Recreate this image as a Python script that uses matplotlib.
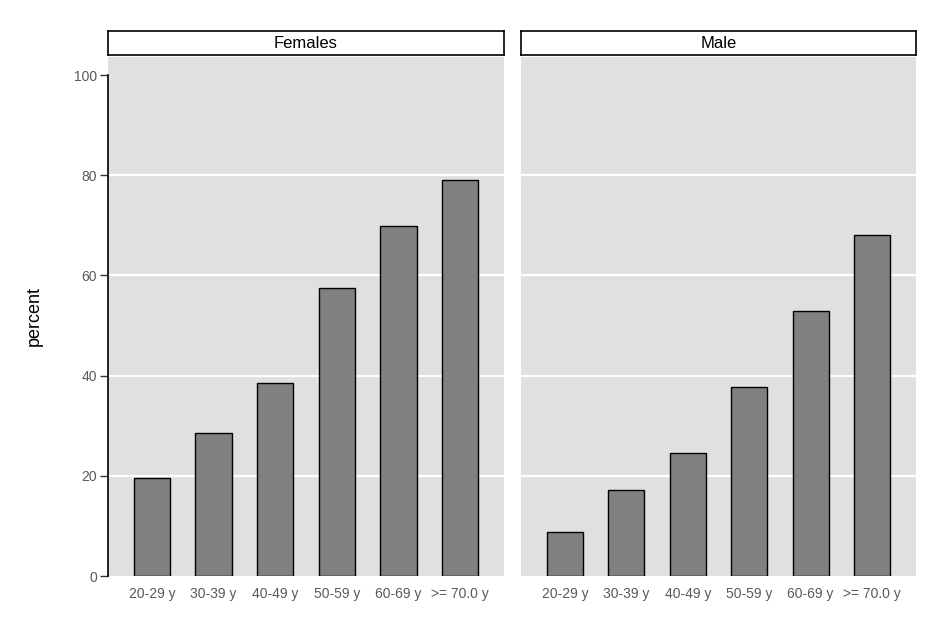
import numpy as np
import matplotlib as mpl
mpl.use('Agg')
from matplotlib import pyplot as plt

plt.rcParams['font.family'] = ['Liberation Sans', 'DejaVu Sans']

# Data
age_groups = ['20-29 y', '30-39 y', '40-49 y', '50-59 y', '60-69 y', '>= 70.0 y']
panels = ['Females', 'Male']
females = [19.5, 28.5, 38.5, 57.4, 69.8, 79.0]
males = [8.8, 17.2, 24.6, 37.8, 52.9, 68.1]
yticks = [0, 20, 40, 60, 80, 100]

W, H = 948, 632
fig = plt.figure(figsize=(W / 100, H / 100), dpi=100)

panel_bg = '#e0e0e0'
tick_col = '#595959'


def px_axes(x0, x1, y0, y1):
    """axes from pixel box (top-left origin)"""
    return fig.add_axes([x0 / W, (H - y1) / H, (x1 - x0) / W, (y1 - y0) / H])


boxes = [(108, 504), (521, 916)]
series = [females, males]
xpos = np.arange(1, len(age_groups) + 1)

for i, (name, vals, (x0, x1)) in enumerate(zip(panels, series, boxes)):
    ax = px_axes(x0, x1, 57, 576)
    ax.set_facecolor(panel_bg)
    for g in yticks[1:-1]:
        ax.axhline(g, color='white', lw=1.6, zorder=1)
    ax.bar(xpos, vals, width=0.59, color='#808080', edgecolor='black', lw=1, zorder=2)
    ax.set_xlim(1 - 0.714, 6 + 0.714)
    ax.set_ylim(0, 103.6)
    for s in ['top', 'right', 'bottom']:
        ax.spines[s].set_visible(False)
    ax.set_xticks(xpos)
    ax.set_xticklabels(age_groups, fontsize=10, color=tick_col)
    ax.tick_params(axis='x', length=0, pad=8)
    if i == 0:
        ax.spines['left'].set_bounds(0, 100)
        ax.spines['left'].set_color('black')
        ax.spines['left'].set_linewidth(1.2)
        ax.set_yticks(yticks)
        ax.set_yticklabels([str(t) for t in yticks], fontsize=10, color=tick_col)
        ax.tick_params(axis='y', length=6, width=1, color='#333333', pad=2)
        ax.set_ylabel('percent', fontsize=13, color='black', labelpad=22)
    else:
        ax.spines['left'].set_visible(False)
        ax.set_yticks([])

    # strip label
    sax = px_axes(x0, x1, 31, 55)
    sax.set_facecolor('white')
    sax.set_xticks([])
    sax.set_yticks([])
    for s in sax.spines.values():
        s.set_color('black')
        s.set_linewidth(1.2)
    sax.text(0.5, 0.47, name, ha='center', va='center', fontsize=12, color='black',
             transform=sax.transAxes)

fig.savefig('out.png', dpi=100, facecolor='white')
